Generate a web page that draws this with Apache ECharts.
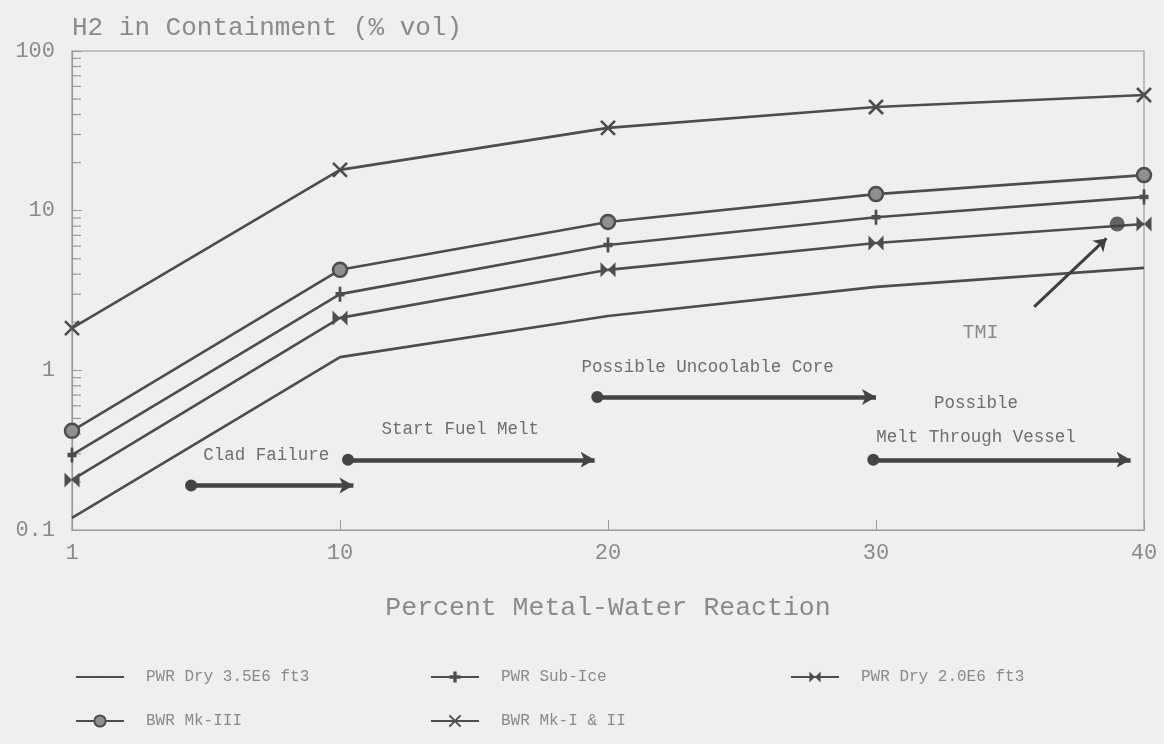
<!DOCTYPE html>
<html>
<head>
<meta charset="utf-8">
<script src="https://cdn.jsdelivr.net/npm/echarts@6/dist/echarts.min.js"></script>
<style>
  html, body { margin: 0; padding: 0; background: #efefed; }
  #main { width: 1164px; height: 744px; }
</style>
</head>
<body>
<div id="main"></div>
<script>
// x positions of the categories (percent metal-water reaction)
const xTicks = [1, 10, 20, 30, 40]
const xTickLabels = ['1', '10', '20', '30', '40']

// H2 in containment (% vol)
const pwrDry35 = [0.119, 1.21, 2.19, 3.33, 4.38]
const pwrSubIce = [0.295, 3.0, 6.1, 9.1, 12.2]
const pwrDry20 = [0.206, 2.13, 4.26, 6.28, 8.25]
const bwrMk3 = [0.418, 4.26, 8.5, 12.7, 16.7]
const bwrMk12 = [1.84, 18.0, 33, 44.6, 53]

// TMI point and pointer
const tmiPoint = [39, 8.25]
const tmiArrow = [[35.9, 2.5], [38.6, 6.7]]
const tmiLabelAt = [33.9, 1.71]

// accident phases: start %, end %, H2 level of the arrow
const phaseNames = ['Clad Failure', 'Start Fuel Melt', 'Possible Uncoolable Core', 'Possible\nMelt Through Vessel']
const phaseFrom = [5, 10.3, 19.6, 29.9]
const phaseTo = [10.5, 19.5, 30, 39.5]
const phaseLevel = [0.19, 0.275, 0.68, 0.275]

// minor log ticks on the y axis
const yMinorTicks = [0.2, 0.3, 0.4, 0.5, 0.6, 0.7, 0.8, 0.9,
    2, 3, 4, 5, 6, 7, 8, 9,
    20, 30, 40, 50, 60, 70, 80, 90]

const MONO = '"Liberation Mono", "DejaVu Sans Mono", monospace'
const INK = '#4d4d4d'
const GREY = '#8a8a8a'

// the x axis is evenly spaced between the category ticks
function toIdx(p) {
    for (let i = 0; i < xTicks.length - 1; i++) {
        if (p <= xTicks[i + 1]) {
            return i + (p - xTicks[i]) / (xTicks[i + 1] - xTicks[i])
        }
    }
    return xTicks.length - 1
}

const pairs = vals => vals.map((v, i) => [toIdx(xTicks[i]), v])

const lineSeries = (name, vals, symbol, symbolSize, itemStyle, showSymbol) => ({
    name: name,
    type: 'line',
    data: pairs(vals),
    symbol: symbol,
    symbolSize: symbolSize,
    showSymbol: showSymbol !== false,
    lineStyle: { color: INK, width: 2.6 },
    itemStyle: Object.assign({ color: INK }, itemStyle || {}),
    z: 3
})

// label nudges so the phase captions sit where the original has them
const phaseLabelDx = [-6, -11, -29, -26]

const phaseLines = phaseNames.map((n, i) => {
    const twoLines = n.indexOf('\n') >= 0
    return [
        {
            name: n,
            coord: [toIdx(phaseFrom[i]), phaseLevel[i]],
            label: { distance: twoLines ? 5 : 13, offset: [phaseLabelDx[i], 0] }
        },
        { coord: [toIdx(phaseTo[i]), phaseLevel[i]] }
    ]
})

const option = {
    backgroundColor: '#efefed',
    animation: false,
    title: {
        text: 'H2 in Containment (% vol)',
        left: 67,
        top: 10,
        textStyle: { fontFamily: MONO, fontSize: 26, fontWeight: 'normal', color: GREY }
    },
    grid: {
        left: 72, right: 20, top: 51, bottom: 214,
        show: true, borderColor: '#9a9a9a', borderWidth: 1.2
    },
    legend: [
        {
            left: 70, top: 664, orient: 'vertical', itemGap: 28,
            data: ['PWR Dry 3.5E6 ft3', 'BWR Mk-III']
        },
        {
            left: 425, top: 664, orient: 'vertical', itemGap: 28,
            data: ['PWR Sub-Ice', 'BWR Mk-I & II']
        },
        {
            left: 785, top: 664, orient: 'vertical', itemGap: 28,
            data: ['PWR Dry 2.0E6 ft3']
        }
    ].map(l => Object.assign(l, {
        itemWidth: 48, itemHeight: 14,
        textStyle: { fontFamily: MONO, fontSize: 16, color: GREY, padding: [0, 0, 0, 17] }
    })),
    xAxis: {
        type: 'value',
        min: 0, max: 4, interval: 1,
        name: 'Percent Metal-Water Reaction',
        nameLocation: 'middle',
        nameGap: 64,
        nameTextStyle: { fontFamily: MONO, fontSize: 26.5, color: GREY },
        axisLine: { lineStyle: { color: '#9a9a9a', width: 1.2 } },
        axisTick: { inside: true, length: 10, lineStyle: { color: '#9a9a9a' } },
        axisLabel: {
            fontFamily: MONO, fontSize: 22, color: GREY, margin: 12,
            formatter: v => xTickLabels[Math.round(v)]
        },
        splitLine: { show: false }
    },
    yAxis: {
        type: 'log',
        logBase: 10,
        min: 0.1, max: 100,
        axisLine: { show: true, lineStyle: { color: '#9a9a9a', width: 1.2 } },
        axisTick: { show: true, inside: true, length: 10, lineStyle: { color: '#9a9a9a' } },
        axisLabel: {
            fontFamily: MONO, fontSize: 22, color: GREY, margin: 17,
            padding: [12, 0, 0, 0],
            formatter: v => String(v)
        },
        splitLine: { show: false }
    },
    series: [
        lineSeries('PWR Dry 3.5E6 ft3', pwrDry35, 'path://M0,0M10,10M0,4.4H10V5.6H0Z', [10, 10], null, false),
        lineSeries('PWR Sub-Ice', pwrSubIce, 'path://M3.5,0H6.5V3.5H10V6.5H6.5V10H3.5V6.5H0V3.5H3.5Z', [9, 15]),
        lineSeries('PWR Dry 2.0E6 ft3', pwrDry20, 'path://M0,0L10,10V0L0,10Z', 15),
        lineSeries('BWR Mk-III', bwrMk3, 'circle', 14,
            { color: '#8f8f8f', borderColor: INK, borderWidth: 2.5 }),
        lineSeries('BWR Mk-I & II', bwrMk12, 'path://M0,0L10,10M10,0L0,10', 14,
            { color: 'transparent', borderColor: INK, borderWidth: 2.6 }),
        {
            name: 'TMI',
            type: 'scatter',
            data: [[toIdx(tmiPoint[0]), tmiPoint[1]]],
            symbol: 'circle',
            symbolSize: 15,
            itemStyle: { color: '#3f3f3f' },
            z: 4,
            markLine: {
                silent: true,
                symbol: ['none', 'arrow'],
                symbolSize: 12,
                lineStyle: { color: '#3f3f3f', width: 3, type: 'solid' },
                label: { show: false },
                data: [[
                    { coord: [toIdx(tmiArrow[0][0]), tmiArrow[0][1]] },
                    { coord: [toIdx(tmiArrow[1][0]), tmiArrow[1][1]] }
                ]]
            },
            markPoint: {
                silent: true,
                symbol: 'circle',
                symbolSize: 0,
                label: {
                    show: true, position: 'inside', formatter: 'TMI',
                    fontFamily: MONO, fontSize: 20, color: GREY
                },
                data: [{ coord: [toIdx(tmiLabelAt[0]), tmiLabelAt[1]] }]
            }
        },
        {
            name: 'phases',
            type: 'line',
            data: [],
            markLine: {
                silent: true,
                symbol: ['circle', 'arrow'],
                symbolSize: [12, 14],
                lineStyle: { color: '#444', width: 4.5, type: 'solid' },
                label: {
                    show: true,
                    position: 'middle',
                    formatter: p => p.name,
                    fontFamily: MONO, fontSize: 17.5, color: '#6e6e6e', lineHeight: 34
                },
                data: phaseLines
            }
        },
        {
            name: 'minorTicks',
            type: 'custom',
            silent: true,
            data: yMinorTicks.map(v => [0, v]),
            renderItem: (params, api) => {
                const p = api.coord([0, api.value(1)])
                return {
                    type: 'line',
                    shape: { x1: p[0], y1: p[1], x2: p[0] + 9, y2: p[1] },
                    style: { stroke: '#9a9a9a', lineWidth: 1.2 }
                }
            },
            z: 1
        }
    ]
}

const myChart = echarts.init(document.getElementById('main'))
myChart.setOption(option)
</script>
</body>
</html>
